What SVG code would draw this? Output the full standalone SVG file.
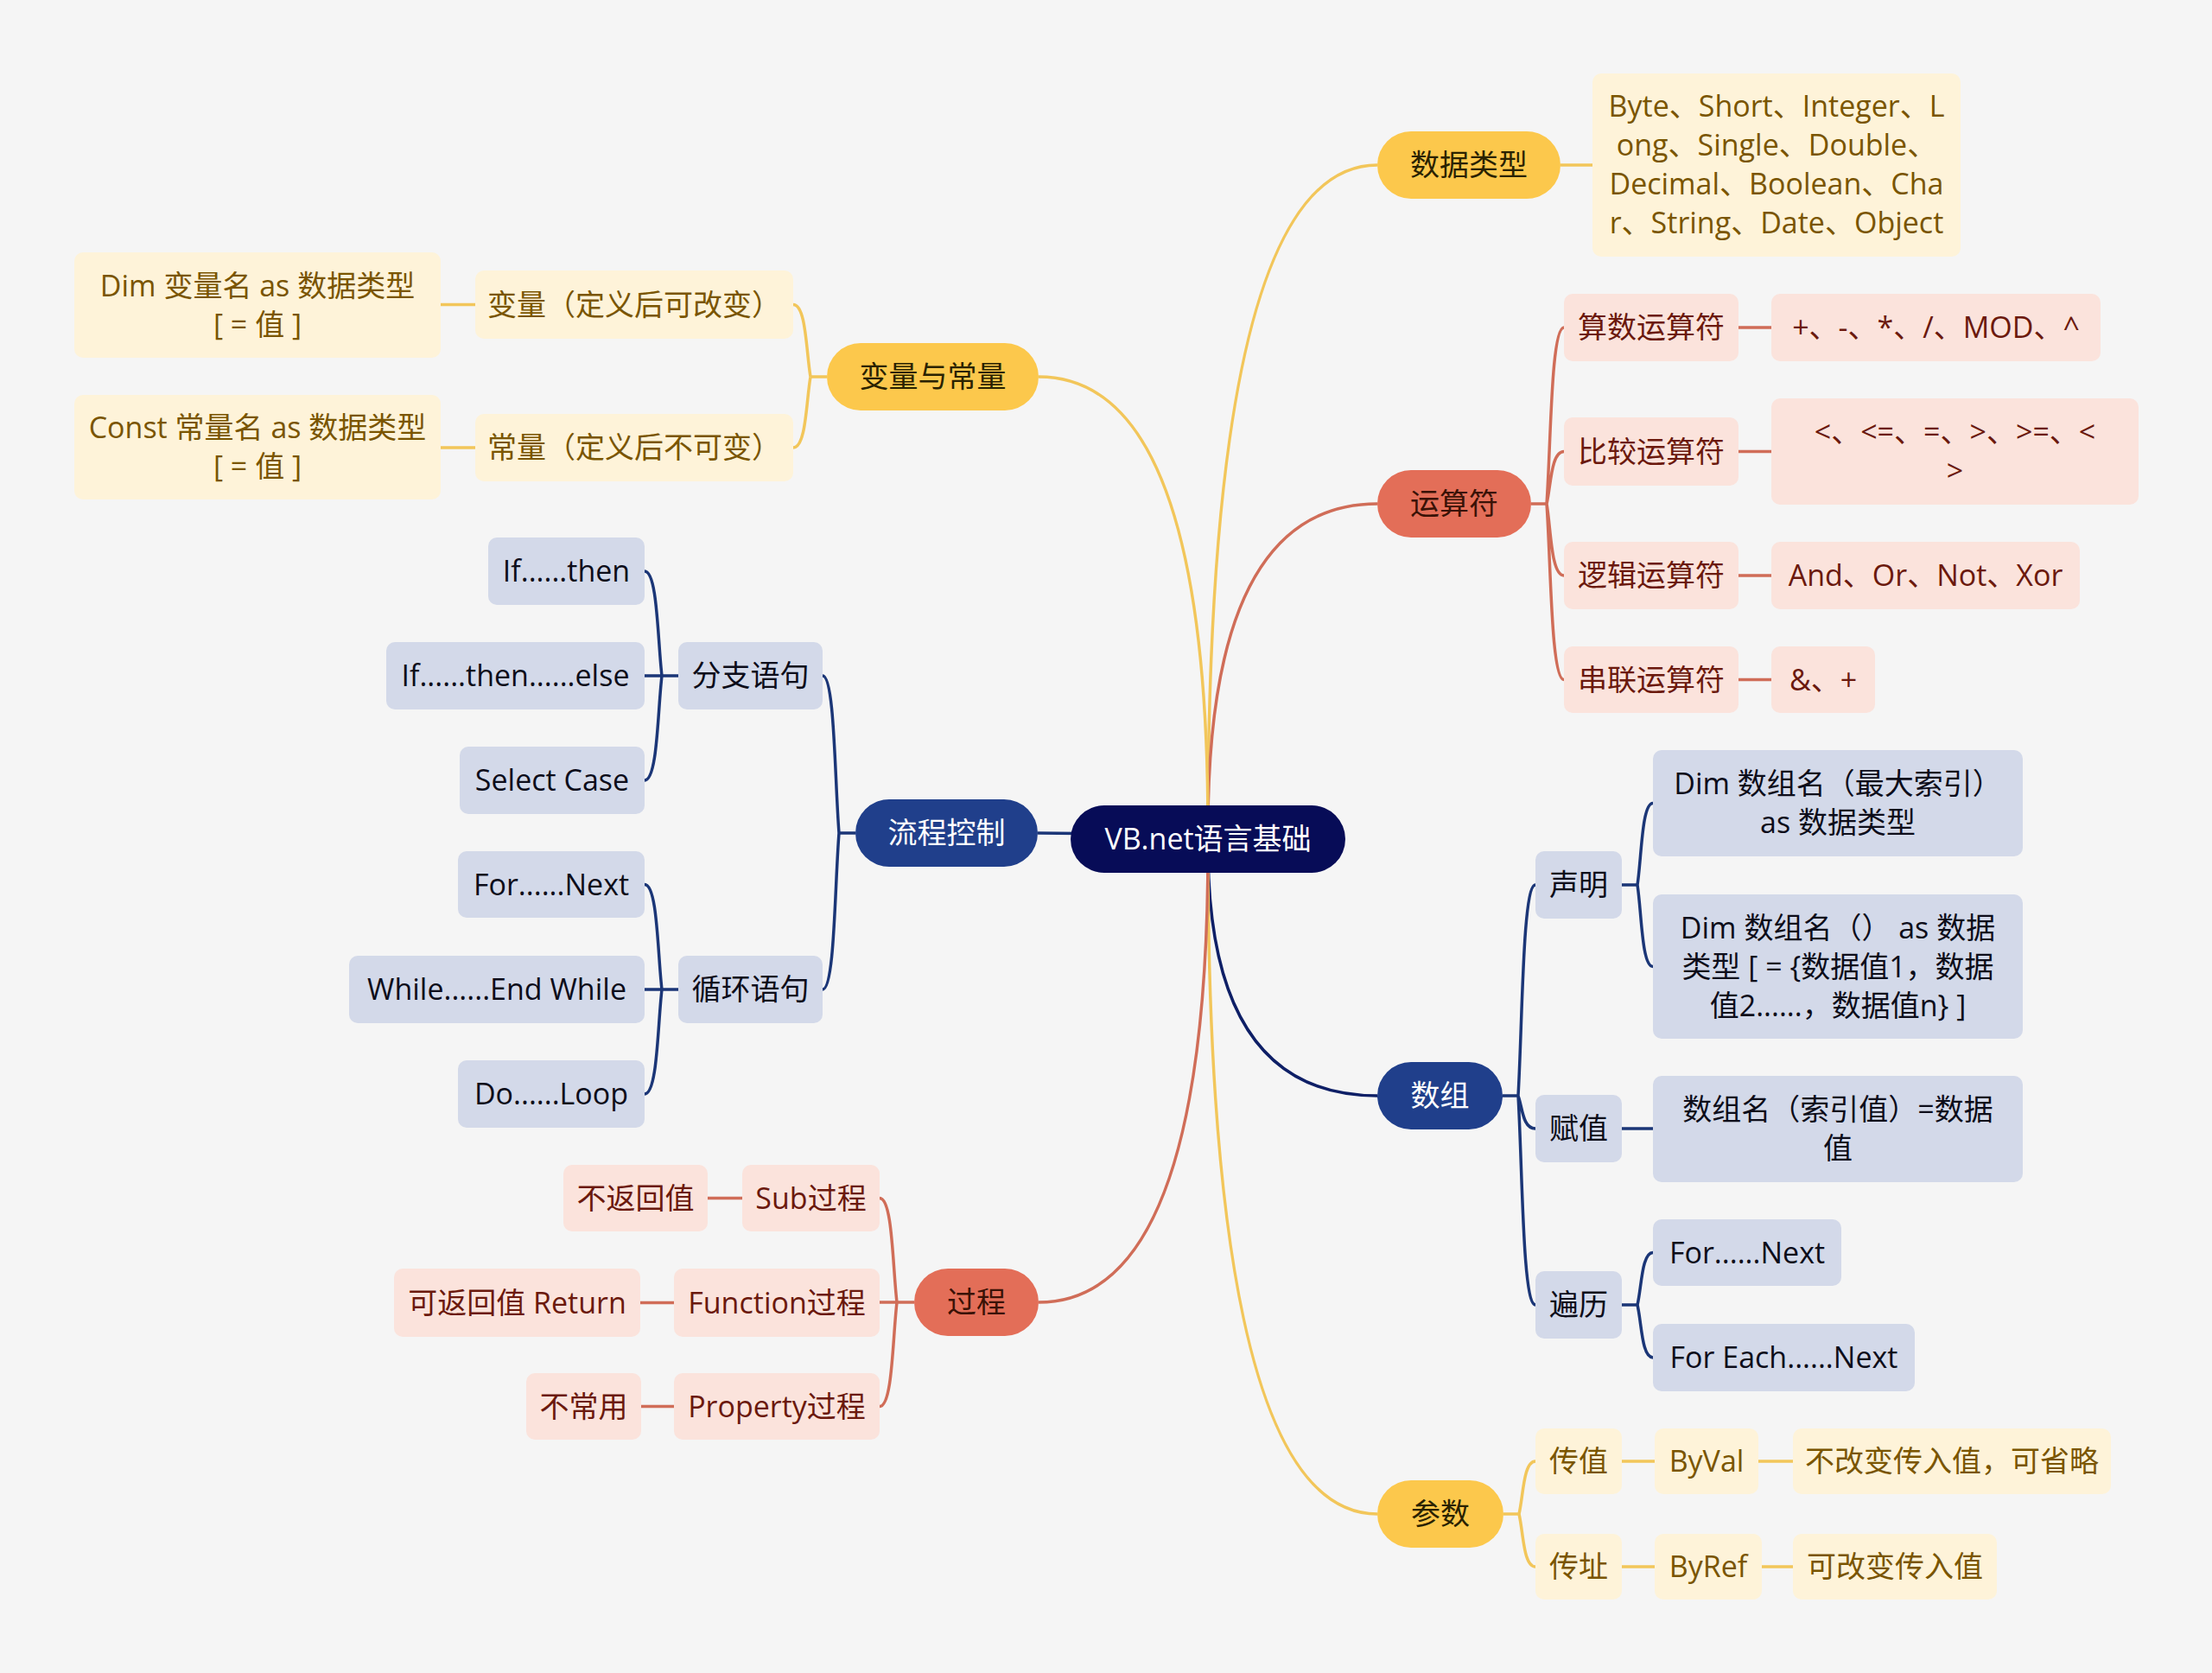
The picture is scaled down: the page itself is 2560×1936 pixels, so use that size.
<svg xmlns="http://www.w3.org/2000/svg" width="2560" height="1936" viewBox="0 0 2560 1936">
<style>
text{font-family:"Open Sans","Noto Sans CJK SC",sans-serif;font-size:34px;text-anchor:middle}
.ly{fill:none;stroke:#f2c65a;stroke-width:3.5}
.lc{fill:none;stroke:#d06d58;stroke-width:3.5}
.lb{fill:none;stroke:#1b3677;stroke-width:3.5}
.py{fill:#fcc84c}.tpy{fill:#2a2200}
.pc{fill:#e36e58}.tpc{fill:#3a1206}
.pb{fill:#203f8b}.tpb{fill:#ffffff}
.by{fill:#fef3d9}.tby{fill:#7a5500}
.bc{fill:#fbe3dc}.tbc{fill:#6b190d}
.bb{fill:#d3d9e9}.tbb{fill:#0d0d1a}
</style>
<rect x="0" y="0" width="2560" height="1936" fill="#f5f5f5"/>
<g id="connectors">
<path class="ly" d="M1398 960 Q1398 191 1594 191"/>
<path class="lc" d="M1398 960 Q1398 583 1594 583"/>
<path class="lb" style="stroke:#0e1f66" d="M1398 980 Q1398 1268 1594 1268"/>
<path class="ly" d="M1398 980 Q1398 1752 1594 1752"/>
<path class="ly" d="M1398 960 Q1398 436 1202 436"/>
<path class="lc" d="M1398 980 Q1398 1507 1202 1507"/>
<path class="lb" d="M1398 966 L1201 964"/>
<path class="ly" d="M1806 191 H1843"/>
<path class="lc" d="M1772 583 H1790 M1790 583 C1795 511.6 1795 379 1810 379 M1790 583 C1795 561.8 1795 522.5 1810 522.5 M1790 583 C1795 612 1795 666 1810 666 M1790 583 C1795 654.2 1795 786.5 1810 786.5"/>
<path class="lc" d="M2012 379 H2050 M2012 522.5 H2050 M2012 666 H2050 M2012 786.5 H2050"/>
<path class="lb" d="M1739 1268 H1757 M1757 1268 C1762 1182.6 1762 1024 1777 1024 M1757 1268 C1762 1281.3 1762 1306 1777 1306 M1757 1268 C1762 1352.7 1762 1510 1777 1510"/>
<path class="lb" d="M1877 1024 H1895 M1895 1024 C1900 991 1900 929.5 1913 929.5 M1895 1024 C1900 1057 1900 1118.5 1913 1118.5"/>
<path class="lb" d="M1877 1306 H1913"/>
<path class="lb" d="M1877 1510 H1895 M1895 1510 C1900 1488.8 1900 1449.5 1913 1449.5 M1895 1510 C1900 1531.4 1900 1571 1913 1571"/>
<path class="ly" d="M1740 1752 H1758 M1758 1752 C1763 1730.6 1763 1691 1777 1691 M1758 1752 C1763 1773.4 1763 1813 1777 1813"/>
<path class="ly" d="M1877 1691 H1915 M2035 1691 H2075 M1877 1813 H1915 M2039 1813 H2075"/>
<path class="ly" d="M957 436 H938 M938 436 C933 406.8 933 352.5 918 352.5 M938 436 C933 464.7 933 518 918 518"/>
<path class="ly" d="M510 352.5 H550 M510 518 H550"/>
<path class="lb" d="M990 964 H971 M971 964 C966 900.3 966 782 952 782 M971 964 C966 1027.4 966 1145 952 1145"/>
<path class="lb" d="M785 782 H746 M766 782 C761 739.6 761 661 746 661 M766 782 C761 824.4 761 903 746 903"/>
<path class="lb" d="M785 1145 H746 M766 1145 C761 1102.5 761 1023.5 746 1023.5 M766 1145 C761 1187.4 761 1266 746 1266"/>
<path class="lc" d="M1058 1507 H1018 M1038 1507 C1033 1464.8 1033 1386.5 1018 1386.5 M1038 1507 C1033 1549.2 1033 1627.5 1018 1627.5"/>
<path class="lc" d="M819 1386.5 H859 M741 1507.5 H780 M742 1627.5 H780"/>
</g>
<g id="root"><rect x="1239" y="932" width="318" height="78" rx="39" fill="#070c57"/><text x="1398" y="983" fill="#ffffff">VB.net语言基础</text></g>

<g id="n-datatype"><rect class="py" x="1594" y="152" width="212" height="78" rx="39"/><text class="tpy" x="1700" y="203">数据类型</text></g>
<g id="n-datatype-list"><rect class="by" x="1843" y="85" width="426" height="212" rx="10"/>
<text class="tby" x="2056" y="135">Byte、Short、Integer、L</text>
<text class="tby" x="2056" y="180">ong、Single、Double、</text>
<text class="tby" x="2056" y="225">Decimal、Boolean、Cha</text>
<text class="tby" x="2056" y="270">r、String、Date、Object</text></g>

<g id="n-op"><rect class="pc" x="1594" y="544" width="178" height="78" rx="39"/><text class="tpc" x="1683" y="595">运算符</text></g>
<g id="n-op-arith"><rect class="bc" x="1810" y="340" width="202" height="78" rx="10"/><text class="tbc" x="1911" y="391">算数运算符</text></g>
<g id="n-op-arith-v"><rect class="bc" x="2050" y="340" width="381" height="78" rx="10"/><text class="tbc" x="2240.5" y="391">+、-、*、/、MOD、^</text></g>
<g id="n-op-cmp"><rect class="bc" x="1810" y="483" width="202" height="79" rx="10"/><text class="tbc" x="1911" y="534.5">比较运算符</text></g>
<g id="n-op-cmp-v"><rect class="bc" x="2050" y="461" width="425" height="123" rx="10"/><text class="tbc" x="2262.5" y="512">&lt;、&lt;=、=、&gt;、&gt;=、&lt;</text><text class="tbc" x="2262.5" y="557">&gt;</text></g>
<g id="n-op-logic"><rect class="bc" x="1810" y="627" width="202" height="78" rx="10"/><text class="tbc" x="1911" y="678">逻辑运算符</text></g>
<g id="n-op-logic-v"><rect class="bc" x="2050" y="627" width="357" height="78" rx="10"/><text class="tbc" x="2228.5" y="678">And、Or、Not、Xor</text></g>
<g id="n-op-concat"><rect class="bc" x="1810" y="748" width="202" height="77" rx="10"/><text class="tbc" x="1911" y="798.5">串联运算符</text></g>
<g id="n-op-concat-v"><rect class="bc" x="2050" y="748" width="120" height="77" rx="10"/><text class="tbc" x="2110" y="798.5">&amp;、+</text></g>

<g id="n-array"><rect class="pb" x="1594" y="1229" width="145" height="78" rx="39"/><text class="tpb" x="1666.5" y="1280">数组</text></g>
<g id="n-arr-decl"><rect class="bb" x="1777" y="985" width="100" height="78" rx="10"/><text class="tbb" x="1827" y="1036">声明</text></g>
<g id="n-arr-decl1"><rect class="bb" x="1913" y="868" width="428" height="123" rx="10"/><text class="tbb" x="2127" y="919">Dim 数组名（最大索引）</text><text class="tbb" x="2127" y="964">as 数据类型</text></g>
<g id="n-arr-decl2"><rect class="bb" x="1913" y="1035" width="428" height="167" rx="10"/><text class="tbb" x="2127" y="1085.5">Dim 数组名（） as 数据</text><text class="tbb" x="2127" y="1130.5">类型 [ = {数据值1，数据</text><text class="tbb" x="2127" y="1175.5">值2......，数据值n} ]</text></g>
<g id="n-arr-assign"><rect class="bb" x="1777" y="1267" width="100" height="78" rx="10"/><text class="tbb" x="1827" y="1318">赋值</text></g>
<g id="n-arr-assign-v"><rect class="bb" x="1913" y="1245" width="428" height="123" rx="10"/><text class="tbb" x="2127" y="1296">数组名（索引值）=数据</text><text class="tbb" x="2127" y="1341">值</text></g>
<g id="n-arr-iter"><rect class="bb" x="1777" y="1471" width="100" height="78" rx="10"/><text class="tbb" x="1827" y="1522">遍历</text></g>
<g id="n-arr-fornext"><rect class="bb" x="1913" y="1411" width="218" height="77" rx="10"/><text class="tbb" x="2022" y="1461.5">For......Next</text></g>
<g id="n-arr-foreach"><rect class="bb" x="1913" y="1532" width="303" height="78" rx="10"/><text class="tbb" x="2064.5" y="1583">For Each......Next</text></g>

<g id="n-param"><rect class="py" x="1594" y="1713" width="146" height="78" rx="39"/><text class="tpy" x="1667" y="1764">参数</text></g>
<g id="n-p-val"><rect class="by" x="1777" y="1653" width="100" height="76" rx="10"/><text class="tby" x="1827" y="1703">传值</text></g>
<g id="n-p-byval"><rect class="by" x="1915" y="1653" width="120" height="76" rx="10"/><text class="tby" x="1975" y="1703">ByVal</text></g>
<g id="n-p-byval-d"><rect class="by" x="2075" y="1653" width="368" height="76" rx="10"/><text class="tby" x="2259" y="1703">不改变传入值，可省略</text></g>
<g id="n-p-ref"><rect class="by" x="1777" y="1775" width="100" height="76" rx="10"/><text class="tby" x="1827" y="1825">传址</text></g>
<g id="n-p-byref"><rect class="by" x="1915" y="1775" width="124" height="76" rx="10"/><text class="tby" x="1977" y="1825">ByRef</text></g>
<g id="n-p-byref-d"><rect class="by" x="2075" y="1775" width="236" height="76" rx="10"/><text class="tby" x="2193" y="1825">可改变传入值</text></g>

<g id="n-varconst"><rect class="py" x="957" y="397" width="245" height="78" rx="39"/><text class="tpy" x="1079.5" y="448">变量与常量</text></g>
<g id="n-var"><rect class="by" x="550" y="313" width="368" height="79" rx="10"/><text class="tby" x="734" y="364.5">变量（定义后可改变）</text></g>
<g id="n-var-d"><rect class="by" x="86" y="292" width="424" height="122" rx="10"/><text class="tby" x="298" y="342.5">Dim 变量名 as 数据类型</text><text class="tby" x="298" y="387.5">[ = 值 ]</text></g>
<g id="n-const"><rect class="by" x="550" y="479" width="368" height="78" rx="10"/><text class="tby" x="734" y="530">常量（定义后不可变）</text></g>
<g id="n-const-d"><rect class="by" x="86" y="457" width="424" height="121" rx="10"/><text class="tby" x="298" y="507">Const 常量名 as 数据类型</text><text class="tby" x="298" y="552">[ = 值 ]</text></g>

<g id="n-flow"><rect class="pb" x="990" y="925" width="211" height="78" rx="39"/><text class="tpb" x="1095.5" y="976">流程控制</text></g>
<g id="n-branch"><rect class="bb" x="785" y="743" width="167" height="78" rx="10"/><text class="tbb" x="868.5" y="794">分支语句</text></g>
<g id="n-ifthen"><rect class="bb" x="565" y="622" width="181" height="78" rx="10"/><text class="tbb" x="655.5" y="673">If......then</text></g>
<g id="n-ifelse"><rect class="bb" x="447" y="743" width="299" height="78" rx="10"/><text class="tbb" x="596.5" y="794">If......then......else</text></g>
<g id="n-select"><rect class="bb" x="532" y="864" width="214" height="78" rx="10"/><text class="tbb" x="639" y="915">Select Case</text></g>
<g id="n-loop"><rect class="bb" x="785" y="1106" width="167" height="78" rx="10"/><text class="tbb" x="868.5" y="1157">循环语句</text></g>
<g id="n-fornext"><rect class="bb" x="530" y="985" width="216" height="77" rx="10"/><text class="tbb" x="638" y="1035.5">For......Next</text></g>
<g id="n-while"><rect class="bb" x="404" y="1106" width="342" height="78" rx="10"/><text class="tbb" x="575" y="1157">While......End While</text></g>
<g id="n-doloop"><rect class="bb" x="530" y="1227" width="216" height="78" rx="10"/><text class="tbb" x="638" y="1278">Do......Loop</text></g>

<g id="n-proc"><rect class="pc" x="1058" y="1468" width="144" height="78" rx="39"/><text class="tpc" x="1130" y="1519">过程</text></g>
<g id="n-sub"><rect class="bc" x="859" y="1348" width="159" height="77" rx="10"/><text class="tbc" x="938.5" y="1398.5">Sub过程</text></g>
<g id="n-sub-d"><rect class="bc" x="652" y="1348" width="167" height="77" rx="10"/><text class="tbc" x="735.5" y="1398.5">不返回值</text></g>
<g id="n-func"><rect class="bc" x="780" y="1468" width="238" height="79" rx="10"/><text class="tbc" x="899" y="1519.5">Function过程</text></g>
<g id="n-func-d"><rect class="bc" x="456" y="1468" width="285" height="79" rx="10"/><text class="tbc" x="598.5" y="1519.5">可返回值 Return</text></g>
<g id="n-prop"><rect class="bc" x="780" y="1589" width="238" height="77" rx="10"/><text class="tbc" x="899" y="1639.5">Property过程</text></g>
<g id="n-prop-d"><rect class="bc" x="609" y="1589" width="133" height="77" rx="10"/><text class="tbc" x="675.5" y="1639.5">不常用</text></g>
</svg>
